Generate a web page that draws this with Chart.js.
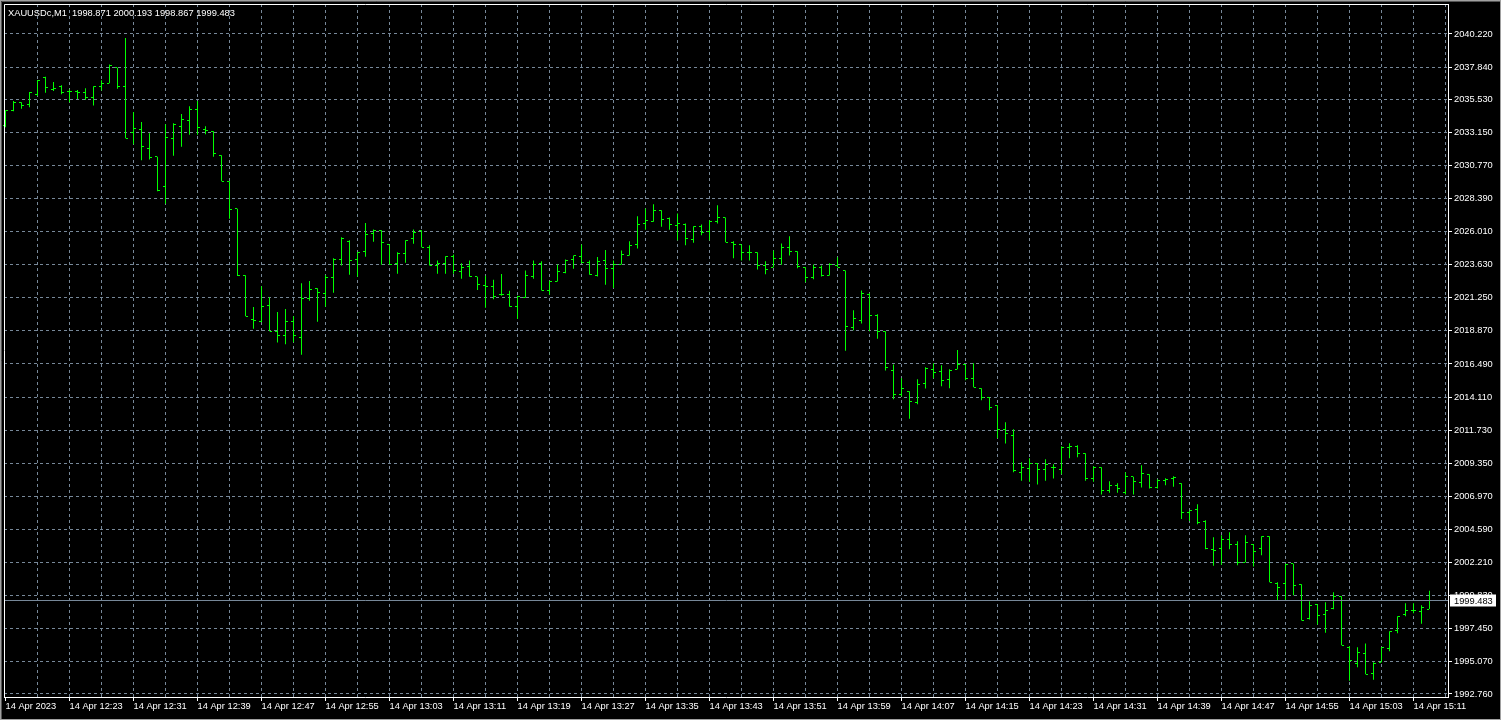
<!DOCTYPE html>
<html>
<head>
<meta charset="utf-8">
<script src="https://cdn.jsdelivr.net/npm/chart.js@4.4.1/dist/chart.umd.min.js"></script>
<style>
  html, body { margin: 0; padding: 0; background: #000; }
  canvas { display: block; }
</style>
</head>
<body>
<canvas id="chart" width="1501" height="720"></canvas>
<script>
// XAUUSDc M1, 14 Apr 2023 12:15 .. 15:13, one bar per minute
const symbol = 'XAUUSDc';
const timeframe = 'M1';

const opens = [
  2033.61, 2034.73, 2035.26, 2035.14, 2035.88, 2037.06, 2036.24, 2036.48, 2036.10, 2036.12,
  2035.98, 2035.64, 2036.46, 2036.67, 2037.80, 2036.44, 2033.15, 2033.32, 2032.00, 2031.40,
  2029.22, 2032.72, 2033.58, 2033.97, 2034.81, 2033.34, 2033.22, 2031.50, 2029.63, 2027.66,
  2022.87, 2019.70, 2019.51, 2020.71, 2018.84, 2018.51, 2019.58, 2018.41, 2021.21, 2021.93,
  2021.57, 2022.72, 2024.01, 2025.31, 2024.01, 2024.59, 2025.88, 2026.10, 2025.09, 2023.73,
  2024.45, 2025.52, 2026.10, 2024.88, 2023.58, 2023.73, 2024.23, 2023.15, 2023.51, 2022.77,
  2022.12, 2022.05, 2021.47, 2021.47, 2020.61, 2021.26, 2022.79, 2023.73, 2021.78, 2022.43,
  2023.08, 2024.01, 2024.23, 2023.80, 2022.86, 2023.94, 2023.37, 2023.65, 2024.30, 2025.09,
  2026.60, 2026.75, 2027.54, 2026.96, 2026.46, 2026.53, 2025.45, 2026.39, 2026.03, 2026.75,
  2027.03, 2025.24, 2025.09, 2024.52, 2024.52, 2023.58, 2023.44, 2024.09, 2024.88, 2024.59,
  2023.44, 2022.72, 2023.44, 2022.86, 2023.58, 2023.22, 2019.12, 2019.63, 2021.50, 2019.99,
  2018.84, 2016.03, 2014.31, 2014.53, 2013.74, 2015.10, 2016.11, 2015.97, 2015.39, 2016.11,
  2016.47, 2015.46, 2014.74, 2014.10, 2013.52, 2011.80, 2011.36, 2008.70, 2008.99, 2009.35,
  2008.92, 2009.06, 2008.92, 2010.50, 2010.57, 2010.07, 2008.27, 2009.06, 2007.39, 2007.77,
  2007.24, 2008.39, 2007.96, 2008.56, 2007.60, 2008.13, 2008.27, 2007.91, 2005.80, 2006.04,
  2005.18, 2003.17, 2003.24, 2003.88, 2003.52, 2002.23, 2003.52, 2003.24, 2004.10, 2000.72,
  2000.72, 2002.13, 2000.65, 1998.18, 1999.21, 1998.49, 1998.92, 1999.79, 1996.12, 1994.97,
  1995.69, 1994.25, 1995.04, 1996.05, 1997.34, 1998.49, 1998.78, 1998.71, 1998.871
];

const highs = [
  2034.73, 2035.40, 2035.31, 2036.05, 2036.91, 2037.15, 2036.77, 2036.53, 2036.24, 2036.20,
  2036.32, 2036.46, 2036.89, 2038.02, 2037.80, 2039.93, 2034.61, 2033.89, 2033.08, 2031.40,
  2033.73, 2033.80, 2034.47, 2035.02, 2035.40, 2033.58, 2033.22, 2031.50, 2029.63, 2027.66,
  2022.87, 2020.59, 2022.08, 2021.29, 2020.23, 2020.45, 2019.92, 2022.29, 2022.46, 2021.93,
  2022.89, 2024.09, 2025.60, 2025.38, 2024.52, 2026.63, 2026.17, 2026.10, 2025.09, 2024.52,
  2025.38, 2026.17, 2026.10, 2025.02, 2023.94, 2024.23, 2024.37, 2023.73, 2023.94, 2022.77,
  2022.84, 2022.55, 2022.96, 2021.76, 2021.40, 2023.22, 2023.94, 2023.87, 2022.48, 2023.65,
  2024.01, 2024.30, 2025.09, 2023.94, 2024.18, 2024.68, 2023.94, 2024.66, 2025.31, 2027.11,
  2027.68, 2027.97, 2027.54, 2027.03, 2027.32, 2026.60, 2026.39, 2026.53, 2026.82, 2027.90,
  2027.03, 2025.31, 2025.09, 2025.02, 2024.52, 2023.87, 2024.66, 2025.16, 2025.67, 2024.59,
  2023.44, 2023.65, 2023.58, 2023.73, 2024.16, 2023.22, 2020.35, 2021.78, 2021.57, 2020.06,
  2018.84, 2016.46, 2015.46, 2014.53, 2015.39, 2016.25, 2016.54, 2016.40, 2016.11, 2017.50,
  2016.47, 2016.54, 2014.74, 2014.10, 2013.52, 2012.30, 2011.80, 2009.42, 2009.71, 2009.35,
  2009.64, 2009.28, 2010.57, 2010.79, 2010.65, 2010.07, 2009.14, 2009.06, 2008.06, 2007.91,
  2008.70, 2008.39, 2009.21, 2008.56, 2008.20, 2008.27, 2008.42, 2007.91, 2005.95, 2006.40,
  2005.25, 2004.03, 2004.17, 2004.39, 2003.74, 2004.17, 2003.52, 2004.10, 2004.10, 2000.79,
  2002.13, 2002.13, 2000.65, 1999.43, 1999.21, 1999.35, 2000.07, 1999.79, 1996.19, 1996.12,
  1996.40, 1995.04, 1996.12, 1997.27, 1998.35, 1999.28, 1999.28, 1999.14, 2000.193
];

const lows = [
  2033.51, 2034.66, 2034.85, 2034.95, 2035.76, 2036.00, 2036.12, 2035.88, 2035.31, 2035.55,
  2035.48, 2035.07, 2036.15, 2036.67, 2036.29, 2032.72, 2032.29, 2031.14, 2031.19, 2028.91,
  2028.02, 2031.47, 2032.12, 2032.98, 2032.98, 2033.01, 2031.40, 2029.63, 2026.94, 2022.82,
  2019.92, 2019.03, 2019.49, 2018.84, 2018.03, 2017.91, 2018.05, 2017.16, 2021.04, 2019.53,
  2020.61, 2021.62, 2023.58, 2022.91, 2022.77, 2024.21, 2025.28, 2023.63, 2023.63, 2022.98,
  2023.77, 2025.14, 2024.88, 2023.58, 2022.98, 2022.98, 2022.98, 2022.62, 2022.77, 2021.81,
  2020.54, 2021.14, 2021.40, 2020.61, 2019.73, 2021.26, 2022.62, 2021.78, 2021.47, 2022.43,
  2023.01, 2023.34, 2023.73, 2022.91, 2022.79, 2022.19, 2021.95, 2023.65, 2024.30, 2024.80,
  2026.15, 2026.72, 2026.36, 2026.15, 2025.38, 2025.02, 2025.21, 2025.74, 2025.38, 2026.60,
  2025.24, 2024.09, 2023.94, 2023.94, 2023.29, 2022.94, 2023.44, 2023.63, 2024.30, 2023.37,
  2022.36, 2022.58, 2022.79, 2022.86, 2023.44, 2017.45, 2018.91, 2019.41, 2018.84, 2018.31,
  2016.03, 2013.95, 2014.15, 2012.56, 2013.59, 2014.72, 2015.46, 2014.89, 2014.74, 2016.11,
  2015.32, 2014.82, 2013.88, 2013.16, 2011.15, 2010.77, 2008.70, 2008.10, 2008.03, 2007.82,
  2008.10, 2008.25, 2008.56, 2009.71, 2009.78, 2008.10, 2008.03, 2007.10, 2007.24, 2007.24,
  2007.10, 2007.10, 2007.60, 2007.53, 2007.53, 2007.77, 2007.67, 2005.35, 2005.20, 2004.96,
  2003.17, 2001.99, 2002.06, 2003.17, 2002.01, 2002.23, 2001.92, 2002.73, 2000.79, 1999.52,
  1999.52, 1999.86, 1998.04, 1998.11, 1997.75, 1997.17, 1998.85, 1996.26, 1993.72, 1994.68,
  1994.18, 1993.79, 1995.04, 1995.83, 1997.12, 1998.35, 1998.56, 1997.82, 1998.867
];

const closes = [
  2034.73, 2035.26, 2035.09, 2036.00, 2036.91, 2036.39, 2036.29, 2036.03, 2036.10, 2035.98,
  2035.67, 2036.46, 2036.67, 2037.92, 2036.44, 2032.72, 2033.44, 2032.14, 2031.35, 2028.98,
  2032.79, 2033.70, 2034.09, 2034.81, 2033.51, 2033.27, 2031.64, 2029.63, 2027.61, 2022.82,
  2019.92, 2019.63, 2020.64, 2018.84, 2018.55, 2019.58, 2018.51, 2021.21, 2021.86, 2021.65,
  2022.72, 2024.01, 2025.52, 2023.94, 2024.52, 2025.81, 2026.10, 2025.24, 2023.63, 2024.45,
  2025.38, 2025.95, 2024.88, 2023.58, 2023.73, 2024.23, 2023.22, 2023.41, 2022.77, 2022.19,
  2022.05, 2021.33, 2021.47, 2020.61, 2021.33, 2022.86, 2023.65, 2021.78, 2022.41, 2023.15,
  2023.94, 2024.30, 2023.80, 2022.93, 2023.87, 2023.37, 2023.63, 2024.37, 2025.02, 2026.53,
  2026.82, 2027.54, 2026.89, 2026.53, 2026.60, 2025.52, 2026.39, 2025.96, 2026.75, 2027.03,
  2025.24, 2025.09, 2024.52, 2024.52, 2023.58, 2023.29, 2024.09, 2024.88, 2024.59, 2023.51,
  2022.72, 2023.44, 2022.86, 2023.65, 2023.44, 2019.20, 2019.77, 2021.57, 2019.99, 2018.84,
  2016.25, 2014.31, 2014.74, 2013.81, 2015.03, 2016.18, 2015.89, 2015.32, 2016.04, 2016.47,
  2015.46, 2014.82, 2014.10, 2013.38, 2011.80, 2011.51, 2008.85, 2009.06, 2009.35, 2008.92,
  2009.28, 2009.06, 2010.48, 2010.57, 2010.07, 2008.27, 2009.06, 2007.39, 2007.77, 2007.53,
  2008.39, 2008.03, 2008.63, 2007.60, 2008.13, 2008.20, 2008.34, 2005.80, 2005.95, 2005.11,
  2003.24, 2003.09, 2003.88, 2003.52, 2002.23, 2003.67, 2003.02, 2004.10, 2000.79, 2000.43,
  2002.09, 2000.58, 1998.04, 1999.14, 1998.42, 1998.78, 1999.79, 1996.26, 1995.18, 1995.76,
  1994.18, 1994.97, 1996.12, 1997.27, 1998.35, 1998.78, 1998.78, 1998.99, 1999.483
];

// time labels, one every 8 bars
const timeLabels = [
  '14 Apr 2023', '14 Apr 12:23', '14 Apr 12:31', '14 Apr 12:39', '14 Apr 12:47', '14 Apr 12:55',
  '14 Apr 13:03', '14 Apr 13:11', '14 Apr 13:19', '14 Apr 13:27', '14 Apr 13:35', '14 Apr 13:43',
  '14 Apr 13:51', '14 Apr 13:59', '14 Apr 14:07', '14 Apr 14:15', '14 Apr 14:23', '14 Apr 14:31',
  '14 Apr 14:39', '14 Apr 14:47', '14 Apr 14:55', '14 Apr 15:03', '14 Apr 15:11'
];

const priceLabels = [
  '2040.220', '2037.840', '2035.530', '2033.150', '2030.770', '2028.390', '2026.010',
  '2023.630', '2021.250', '2018.870', '2016.490', '2014.110', '2011.730', '2009.350',
  '2006.970', '2004.590', '2002.210', '1999.830', '1997.450', '1995.070', '1992.760'
];

const GRID = '#778899';
const BAR = '#00ff00';
const FONT = { family: 'Liberation Sans', size: 9.3 };

const last = closes.length - 1;

// background, window edge, plot frame (left/top; right/bottom come from the axes)
const frame = {
  id: 'frame',
  beforeDraw(chart) {
    const { ctx, width, height } = chart;
    ctx.save();
    ctx.fillStyle = '#000';
    ctx.fillRect(0, 0, width, height);
    ctx.restore();
  },
  afterDraw(chart) {
    const { ctx, width, height, chartArea: a, scales: { y } } = chart;
    ctx.save();
    ctx.strokeStyle = '#fff';
    ctx.lineWidth = 1;
    ctx.beginPath();
    ctx.moveTo(a.left + 0.5, a.bottom);
    ctx.lineTo(a.left + 0.5, a.top + 0.5);
    ctx.lineTo(a.right + 1, a.top + 0.5);
    ctx.stroke();

    // bid line + price box
    const py = Math.floor(y.getPixelForValue(closes[last])) + 0.5;
    ctx.strokeStyle = GRID;
    ctx.beginPath();
    ctx.moveTo(a.left + 1, py);
    ctx.lineTo(a.right, py);
    ctx.stroke();

    ctx.fillStyle = '#fff';
    ctx.fillRect(a.right + 2, py - 6, 46, 12);
    ctx.fillStyle = '#000';
    ctx.font = FONT.size + 'px "' + FONT.family + '"';
    ctx.textBaseline = 'middle';
    ctx.fillText(closes[last].toFixed(3), a.right + 6, py + 0.5);

    // header
    ctx.fillStyle = '#fff';
    const ohlc = [opens[last], highs[last], lows[last], closes[last]].map(v => v.toFixed(3)).join(' ');
    ctx.fillText(symbol + ',' + timeframe + '  ' + ohlc, 8, 13);

    // window edge
    ctx.strokeStyle = '#a0a0a0';
    ctx.strokeRect(0.5, 0.5, width - 1, height - 1);
    ctx.strokeStyle = '#555';
    ctx.beginPath();
    ctx.moveTo(1.5, height - 1);
    ctx.lineTo(1.5, 1.5);
    ctx.lineTo(width - 1, 1.5);
    ctx.stroke();
    ctx.restore();
  }
};

// open tick on the left, close tick on the right
const ohlcTicks = {
  id: 'ohlcTicks',
  afterDatasetsDraw(chart) {
    const { ctx, scales: { x, y } } = chart;
    ctx.save();
    ctx.fillStyle = BAR;
    for (let i = 0; i < closes.length; i++) {
      const col = Math.round(x.getPixelForValue(i) - 0.5);
      const yo = Math.floor(y.getPixelForValue(opens[i]));
      const yc = Math.floor(y.getPixelForValue(closes[i]));
      ctx.fillRect(col - 2, yo, 2, 1);
      ctx.fillRect(col + 1, yc, 2, 1);
    }
    ctx.restore();
  }
};

new Chart(document.getElementById('chart'), {
  type: 'bar',
  data: {
    datasets: [{
      data: highs.map((h, i) => ({ x: i, y: [lows[i], h] })),
      backgroundColor: BAR,
      borderWidth: 0,
      barThickness: 1,
      inflateAmount: 0,
      grouped: false
    }]
  },
  options: {
    responsive: false,
    animation: false,
    events: [],
    layout: { padding: { left: 4, top: 4, right: 0, bottom: 0 } },
    plugins: { legend: { display: false }, tooltip: { enabled: false } },
    scales: {
      x: {
        type: 'linear',
        min: -0.1875,
        max: 180.3125,
        offset: false,
        afterBuildTicks(scale) {
          const t = [];
          for (let i = 0; i <= 180; i += 4) t.push({ value: i });
          scale.ticks = t;
        },
        afterFit(scale) {
          scale.height = 23;
          scale.paddingLeft = 0; scale.paddingRight = 0;
          scale.paddingTop = 0; scale.paddingBottom = 0;
        },
        grid: {
          offset: false,
          color: c => (c.tick && c.tick.value === 0 ? 'transparent' : GRID),
          tickLength: 4,
          tickColor: c => (c.tick && c.tick.value % 8 === 0 ? '#fff' : 'transparent'),
          tickBorderDash: []
        },
        border: { color: '#fff', dash: [3, 3] },
        ticks: {
          autoSkip: false,
          maxRotation: 0,
          align: 'start',
          padding: 0,
          color: '#fff',
          font: FONT,
          callback: v => (v % 8 === 0 ? timeLabels[v / 8] : '')
        }
      },
      y: {
        position: 'right',
        min: 1992.544,
        max: 2042.377,
        afterBuildTicks(scale) {
          scale.ticks = priceLabels.map(s => ({ value: parseFloat(s) }));
        },
        afterFit(scale) {
          scale.width = 53;
          scale.paddingLeft = 0; scale.paddingRight = 0;
          scale.paddingTop = 0; scale.paddingBottom = 0;
        },
        grid: {
          color: GRID,
          tickLength: 4,
          tickColor: '#fff',
          tickBorderDash: []
        },
        border: { color: '#fff', dash: [3, 3] },
        ticks: {
          padding: 2,
          color: '#fff',
          font: FONT,
          callback: (v, i) => priceLabels[i]
        }
      }
    }
  },
  plugins: [frame, ohlcTicks]
});
</script>
</body>
</html>
